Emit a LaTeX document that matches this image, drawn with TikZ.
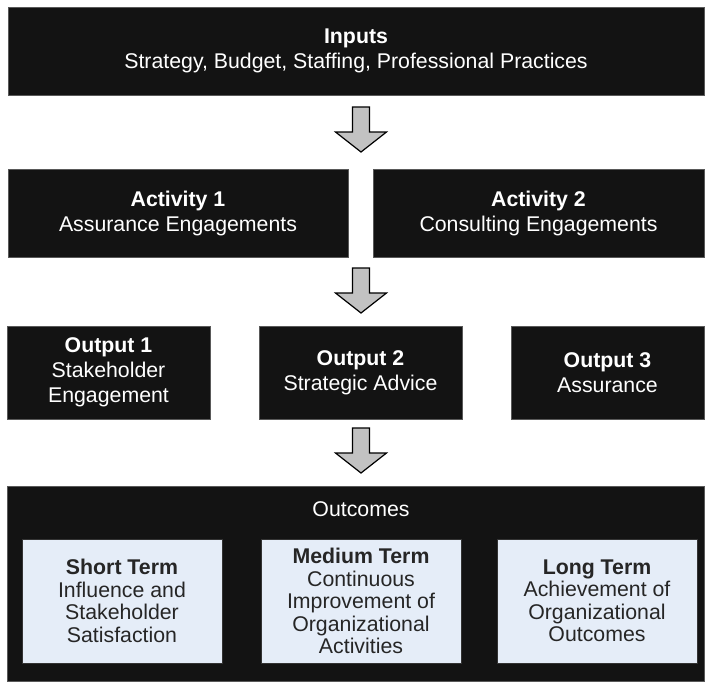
\documentclass[tikz,border=0pt]{standalone}
\usepackage{fontspec}
\setmainfont{Liberation Sans}
\definecolor{boxblack}{HTML}{131313}
\definecolor{termblue}{HTML}{E5EDF8}
\definecolor{arrowgray}{HTML}{C2C2C2}
\tikzset{
  darkbox/.style={fill=boxblack, draw=black!65, line width=0.6pt, text=white, align=center,
    font=\fontsize{21.3}{25}\selectfont, inner sep=0pt},
  termbox/.style={fill=termblue, draw=black!80, line width=0.8pt, text=black!85, align=center,
    font=\fontsize{21.3}{22.5}\selectfont, minimum width=200, minimum height=124, inner sep=0pt},
  blockarrow/.style={fill=arrowgray, draw=black, line width=1.2pt, line join=miter}
}

\begin{document}
\begin{tikzpicture}[x=1pt, y=-1pt]
\useasboundingbox (0,0) rectangle (705,683);
\node[darkbox, minimum width=696, minimum height=88] (inputs) at (356,51)
  {\textbf{Inputs}\\Strategy, Budget, Staffing, Professional Practices};
\node[darkbox, minimum width=340, minimum height=88] (act1) at (178,213)
  {\textbf{Activity 1}\\Assurance Engagements};
\node[darkbox, minimum width=331, minimum height=88] (act2) at (538.5,213)
  {\textbf{Activity 2}\\Consulting Engagements};
\node[darkbox, minimum width=203, minimum height=93] (out1) at (108.5,372.5)
  {\textbf{Output 1}\\Stakeholder\\Engagement};
\node[darkbox, minimum width=203, minimum height=93] (out2) at (360.5,372.5)
  {\textbf{Output 2}\\Strategic Advice};
\node[darkbox, minimum width=193, minimum height=93] (out3) at (607.5,372.5)
  {\textbf{Output 3}\\Assurance};
\node[darkbox, minimum width=697, minimum height=195] (outcomes) at (355.5,583.5) {};
\node[text=white, font=\fontsize{21.3}{25}\selectfont, anchor=base] (outlabel) at (361,516) {Outcomes};
\node[termbox] (short) at (122,601)
  {\textbf{Short Term}\\Influence and\\Stakeholder\\Satisfaction};
\node[termbox] (medium) at (361,601)
  {\textbf{Medium Term}\\Continuous\\Improvement of\\Organizational\\Activities};
\node[termbox] (long) at (597,601)
  {\textbf{Long Term}\\Achievement of\\Organizational\\Outcomes};
\foreach \y in {107,268,428}
  \draw[blockarrow] (352.5,\y) -- (369.5,\y) -- (369.5,\y+25) -- (386.5,\y+25)
    -- (361,\y+45) -- (335.5,\y+25) -- (352.5,\y+25) -- cycle;
\end{tikzpicture}
\end{document}
